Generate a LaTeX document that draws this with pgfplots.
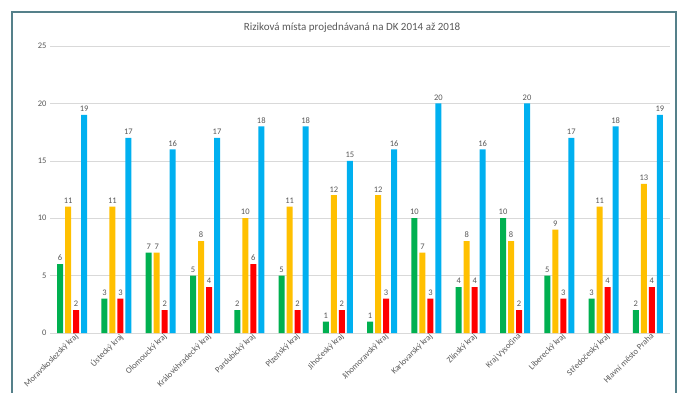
\documentclass[border=0pt]{standalone}
\usepackage{fontspec}
\setmainfont{Carlito}
\usepackage{pgfplots}
\pgfplotsset{compat=1.18}
\definecolor{cgreen}{HTML}{00B050}
\definecolor{cyellow}{HTML}{FFC000}
\definecolor{cred}{HTML}{FF0000}
\definecolor{cblue}{HTML}{00B0F0}
\definecolor{txt}{HTML}{595959}
\definecolor{gridc}{HTML}{D9D9D9}
\definecolor{frame}{HTML}{55808A}
\begin{document}
\begin{tikzpicture}[x=1pt,y=1pt]
\useasboundingbox (0,0) rectangle (681,392);
\clip (0,0) rectangle (681,392);
\fill[white] (0,0) rectangle (681,392);
\draw[frame, line width=1.3pt] (12,-10) -- (12,380) -- (676,380) -- (676,-10);
\node[txt, font=\fontsize{11}{13}\selectfont] at (352,364) {Riziková místa projednávaná na DK 2014 až 2018};
\begin{axis}[
  at={(50pt,59pt)}, anchor=south west,
  scale only axis, width=620pt, height=287pt,
  ybar=2pt, bar width=6pt,
  xmin=-0.5, xmax=13.5, ymin=0, ymax=25,
  axis line style={draw=none},
  ytick={0,5,...,25}, ymajorgrids, grid style={gridc, line width=0.6pt},
  major tick length=0pt,
  xtick={0,...,13},
  xticklabels={Moravskoslezský kraj, Ústecký kraj, Olomoucký kraj, Královéhradecký kraj, Pardubický kraj, Plzeňský kraj, Jihočeský kraj, Jihomoravský kraj, Karlovarský kraj, Zlínský kraj, Kraj Vysočina, Liberecký kraj, Středočeský kraj, Hlavní město Praha},
  x tick label style={rotate=45, anchor=north east, font=\fontsize{8.5}{9}\selectfont, text=txt, inner sep=1pt, xshift=3pt},
  y tick label style={font=\fontsize{8.5}{9}\selectfont, text=txt},
  /pgf/number format/assume math mode=true,
  nodes near coords,
  every node near coord/.append style={font=\fontsize{8.5}{9}\selectfont, text=txt, inner sep=3pt},
  every axis plot/.append style={draw=none},
]
\addplot[fill=cgreen] coordinates {(0,6) (1,3) (2,7) (3,5) (4,2) (5,5) (6,1) (7,1) (8,10) (9,4) (10,10) (11,5) (12,3) (13,2)};
\addplot[fill=cyellow] coordinates {(0,11) (1,11) (2,7) (3,8) (4,10) (5,11) (6,12) (7,12) (8,7) (9,8) (10,8) (11,9) (12,11) (13,13)};
\addplot[fill=cred] coordinates {(0,2) (1,3) (2,2) (3,4) (4,6) (5,2) (6,2) (7,3) (8,3) (9,4) (10,2) (11,3) (12,4) (13,4)};
\addplot[fill=cblue] coordinates {(0,19) (1,17) (2,16) (3,17) (4,18) (5,18) (6,15) (7,16) (8,20) (9,16) (10,20) (11,17) (12,18) (13,19)};
\end{axis}
\end{tikzpicture}
\end{document}
